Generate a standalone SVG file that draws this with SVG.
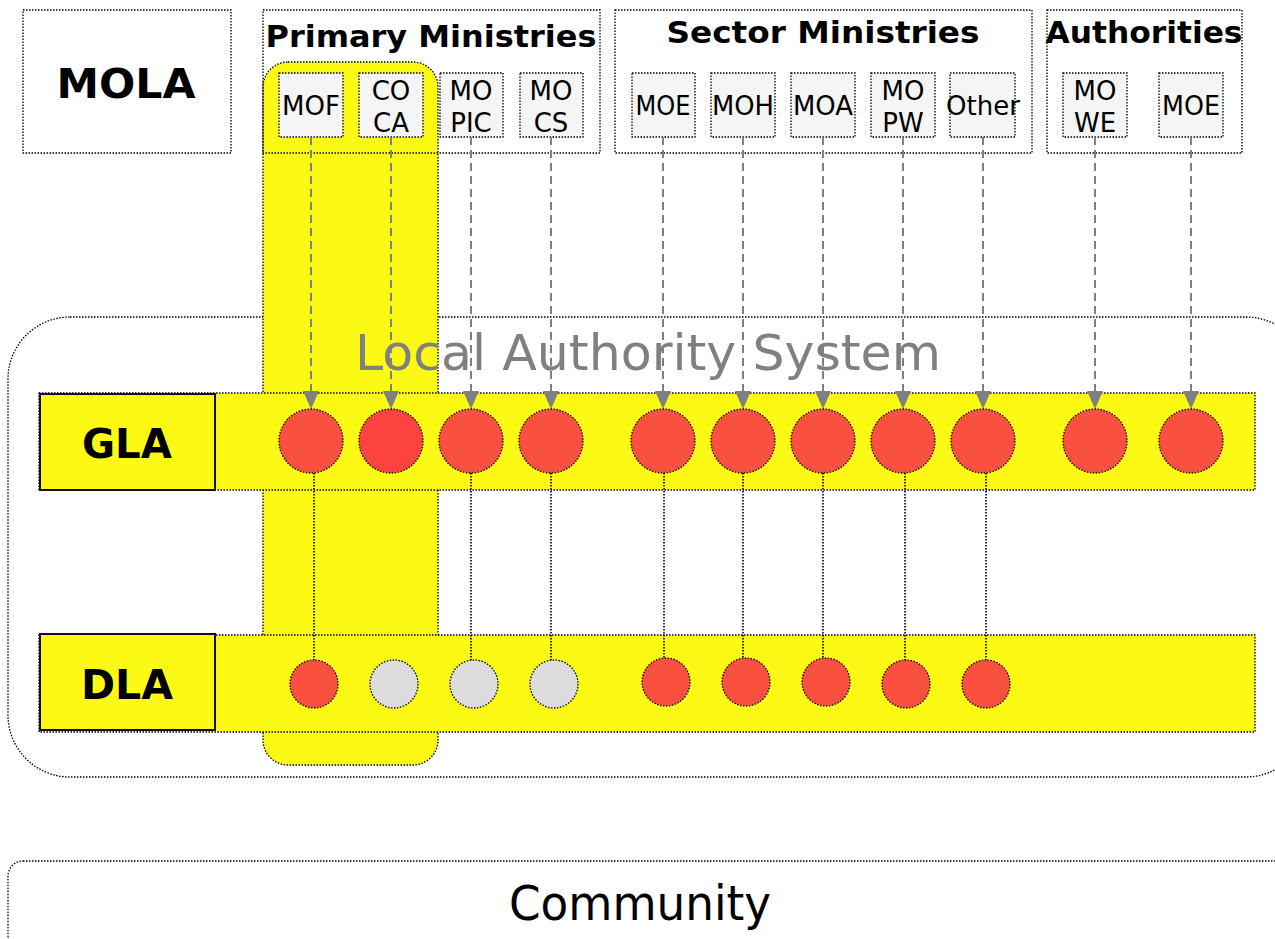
<svg xmlns="http://www.w3.org/2000/svg" width="1275" height="939" viewBox="0 0 1275 939">
<style>
.dot{fill:none;stroke:#000;stroke-width:1.3;stroke-dasharray:1.5 1.5}
.sbox{fill:#f5f5f5;stroke:#000;stroke-width:1.3;stroke-dasharray:1.5 1.5}
.ylw{fill:#fcf914;stroke:#000;stroke-width:1.3;stroke-dasharray:1.5 1.5}
.lbl{fill:#fcf914;stroke:#111;stroke-width:2}
.red{fill:#fa5040;stroke:#000;stroke-width:1.3;stroke-dasharray:1.5 1.5}
.red2{fill:#fc4340;stroke:#000;stroke-width:1.3;stroke-dasharray:1.5 1.5}
.gry{fill:#dcdcdc;stroke:#000;stroke-width:1.3;stroke-dasharray:1.5 1.5}
.t{font-family:"DejaVu Sans","Liberation Sans",sans-serif;fill:#000;text-anchor:middle}
.b{font-weight:bold}
.s{font-size:26px}
.arr{stroke:#808080;stroke-width:2;stroke-dasharray:8 5;fill:none}
.vl{stroke:#000;stroke-width:1.6;stroke-dasharray:1.5 1.5;fill:none}
</style>
<defs>
<marker id="ah" markerWidth="18" markerHeight="18" viewBox="0 0 18 18" refX="18" refY="9" orient="auto" markerUnits="userSpaceOnUse">
<path d="M0,1 L18,9 L0,17 Z" fill="#808080"/>
</marker>
</defs>
<rect width="1275" height="939" fill="#fff"/>

<g id="community">
<rect class="dot" x="8" y="861" width="1290" height="90" rx="15"/>
<text class="t" x="640" y="920" font-size="48" textLength="262" lengthAdjust="spacingAndGlyphs">Community</text>
</g>

<g id="las">
<rect class="dot" x="8" y="317" width="1300" height="460" rx="62"/>
</g>

<g id="primary-column">
<rect class="ylw" x="263" y="62" width="175" height="703" rx="25"/>
</g>

<g id="las-title">
<text class="t" x="648" y="370" font-size="50" style="fill:#808080" textLength="586" lengthAdjust="spacingAndGlyphs">Local Authority System</text>
</g>

<g id="gla">
<rect class="ylw" x="39" y="393" width="1216" height="97"/>
<rect class="lbl" x="40" y="394" width="175" height="96"/>
<text class="t b" x="127" y="458" font-size="40" textLength="90" lengthAdjust="spacingAndGlyphs">GLA</text>
</g>
<g id="dla">
<rect class="ylw" x="39" y="635" width="1216" height="97"/>
<rect class="lbl" x="40" y="634" width="175" height="96"/>
<text class="t b" x="127" y="699" font-size="40" textLength="92" lengthAdjust="spacingAndGlyphs">DLA</text>
</g>

<g id="mola">
<rect class="dot" x="23" y="10" width="208" height="143"/>
<text class="t b" x="126" y="98" font-size="40" textLength="139" lengthAdjust="spacingAndGlyphs">MOLA</text>
</g>

<g id="primary-ministries">
<rect class="dot" x="263" y="10" width="337" height="143"/>
<text class="t b" x="431" y="47" font-size="31" textLength="331" lengthAdjust="spacingAndGlyphs">Primary Ministries</text>
</g>
<g id="sector-ministries">
<rect class="dot" x="615" y="10" width="417" height="143"/>
<text class="t b" x="823" y="43" font-size="31" textLength="313" lengthAdjust="spacingAndGlyphs">Sector Ministries</text>
</g>
<g id="authorities">
<rect class="dot" x="1047" y="10" width="195" height="143"/>
<text class="t b" x="1144" y="43" font-size="31" textLength="197" lengthAdjust="spacingAndGlyphs">Authorities</text>
</g>

<g id="m-mof"><rect class="sbox" x="279" y="73" width="64" height="64"/><text class="t s" x="311" y="115" textLength="58" lengthAdjust="spacingAndGlyphs">MOF</text></g>
<g id="m-coca"><rect class="sbox" x="359" y="73" width="64" height="64"/><text class="t s" x="391" y="100">CO</text><text class="t s" x="391" y="132">CA</text></g>
<g id="m-mopic"><rect class="sbox" x="440" y="73" width="63" height="64"/><text class="t s" x="471" y="100">MO</text><text class="t s" x="471" y="132">PIC</text></g>
<g id="m-mocs"><rect class="sbox" x="520" y="73" width="63" height="64"/><text class="t s" x="551" y="100">MO</text><text class="t s" x="551" y="132">CS</text></g>
<g id="m-moe"><rect class="sbox" x="632" y="73" width="63" height="64"/><text class="t s" x="663" y="115" textLength="55" lengthAdjust="spacingAndGlyphs">MOE</text></g>
<g id="m-moh"><rect class="sbox" x="711" y="73" width="64" height="64"/><text class="t s" x="743" y="115" textLength="62" lengthAdjust="spacingAndGlyphs">MOH</text></g>
<g id="m-moa"><rect class="sbox" x="791" y="73" width="64" height="64"/><text class="t s" x="823" y="115" textLength="60" lengthAdjust="spacingAndGlyphs">MOA</text></g>
<g id="m-mopw"><rect class="sbox" x="871" y="73" width="64" height="64"/><text class="t s" x="903" y="100">MO</text><text class="t s" x="903" y="132">PW</text></g>
<g id="m-other"><rect class="sbox" x="950" y="73" width="65" height="64"/><text class="t s" x="983" y="115" textLength="74" lengthAdjust="spacingAndGlyphs">Other</text></g>
<g id="m-mowe"><rect class="sbox" x="1063" y="73" width="64" height="64"/><text class="t s" x="1095" y="100">MO</text><text class="t s" x="1095" y="132">WE</text></g>
<g id="m-moe2"><rect class="sbox" x="1159" y="73" width="64" height="64"/><text class="t s" x="1191" y="115" textLength="58" lengthAdjust="spacingAndGlyphs">MOE</text></g>

<g id="connectors">
<path class="arr" marker-end="url(#ah)" d="M311,137 V409"/>
<path class="arr" marker-end="url(#ah)" d="M391,137 V409"/>
<path class="arr" marker-end="url(#ah)" d="M471,137 V409"/>
<path class="arr" marker-end="url(#ah)" d="M551,137 V409"/>
<path class="arr" marker-end="url(#ah)" d="M663,137 V409"/>
<path class="arr" marker-end="url(#ah)" d="M743,137 V409"/>
<path class="arr" marker-end="url(#ah)" d="M823,137 V409"/>
<path class="arr" marker-end="url(#ah)" d="M903,137 V409"/>
<path class="arr" marker-end="url(#ah)" d="M983,137 V409"/>
<path class="arr" marker-end="url(#ah)" d="M1095,137 V409"/>
<path class="arr" marker-end="url(#ah)" d="M1191,137 V409"/>
<path class="vl" d="M314,473 V660"/>
<path class="vl" d="M471,473 V660"/>
<path class="vl" d="M551,473 V660"/>
<path class="vl" d="M664,473 V658"/>
<path class="vl" d="M743,473 V658"/>
<path class="vl" d="M823,473 V658"/>
<path class="vl" d="M905,473 V660"/>
<path class="vl" d="M986,473 V660"/>
</g>

<g id="gla-nodes">
<ellipse class="red" cx="311" cy="441" rx="32" ry="32"/>
<ellipse class="red2" cx="391" cy="441" rx="32" ry="32"/>
<ellipse class="red" cx="471" cy="441" rx="32" ry="32"/>
<ellipse class="red" cx="551" cy="441" rx="32" ry="32"/>
<ellipse class="red" cx="663" cy="441" rx="32" ry="32"/>
<ellipse class="red" cx="743" cy="441" rx="32" ry="32"/>
<ellipse class="red" cx="823" cy="441" rx="32" ry="32"/>
<ellipse class="red" cx="903" cy="441" rx="32" ry="32"/>
<ellipse class="red" cx="983" cy="441" rx="32" ry="32"/>
<ellipse class="red" cx="1095" cy="441" rx="32" ry="32"/>
<ellipse class="red" cx="1191" cy="441" rx="32" ry="32"/>
</g>
<g id="dla-nodes">
<ellipse class="red" cx="314" cy="684" rx="24" ry="24"/>
<ellipse class="gry" cx="394" cy="684" rx="24" ry="24"/>
<ellipse class="gry" cx="474" cy="684" rx="24" ry="24"/>
<ellipse class="gry" cx="554" cy="684" rx="24" ry="24"/>
<ellipse class="red" cx="666" cy="682" rx="24" ry="24"/>
<ellipse class="red" cx="746" cy="682" rx="24" ry="24"/>
<ellipse class="red" cx="826" cy="682" rx="24" ry="24"/>
<ellipse class="red" cx="906" cy="684" rx="24" ry="24"/>
<ellipse class="red" cx="986" cy="684" rx="24" ry="24"/>
</g>
</svg>
